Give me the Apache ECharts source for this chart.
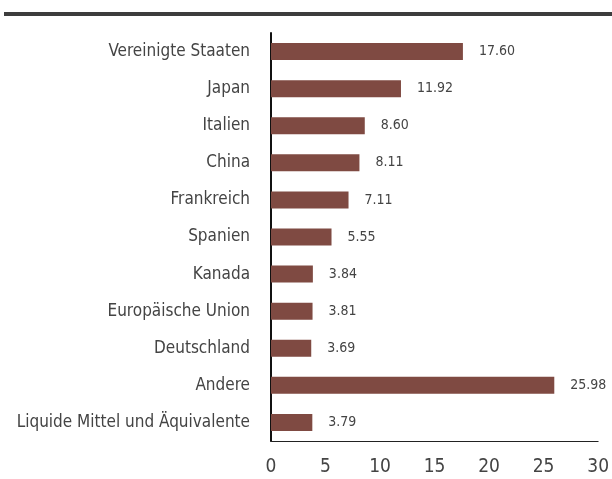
<!DOCTYPE html>
<html>
<head>
<meta charset="utf-8">
<script src="https://cdn.jsdelivr.net/npm/echarts@6/dist/echarts.min.js"></script>
<style>
  html, body { margin: 0; padding: 0; background: #fff; }
  #chart { width: 612px; height: 479px; }
</style>
</head>
<body>
<div id="chart"></div>
<script>
var categories = [
  'Vereinigte Staaten', 'Japan', 'Italien', 'China', 'Frankreich', 'Spanien',
  'Kanada', 'Europäische Union', 'Deutschland', 'Andere', 'Liquide Mittel und Äquivalente'
];
var values = [17.60, 11.92, 8.60, 8.11, 7.11, 5.55, 3.84, 3.81, 3.69, 25.98, 3.79];
var xTicks = [0, 5, 10, 15, 20, 25, 30];

var font = '"DejaVu Sans Condensed", "Liberation Sans Narrow", sans-serif';

var chart = echarts.init(document.getElementById('chart'));

var option = {
  animation: false,
  textStyle: { fontFamily: font },
  graphic: [
    {
      type: 'rect',
      shape: { x: 4, y: 12, width: 608, height: 4 },
      style: { fill: '#3d3d3d' }
    }
  ],
  grid: { left: 271, right: 11, top: 33, bottom: 38 },
  xAxis: {
    type: 'value',
    min: xTicks[0],
    max: xTicks[xTicks.length - 1],
    interval: 5,
    axisLine: { show: true, lineStyle: { color: '#222', width: 1 } },
    axisTick: { show: false },
    splitLine: { show: false },
    axisLabel: { color: '#444', fontSize: 19, margin: 17, fontFamily: font }
  },
  yAxis: {
    type: 'category',
    inverse: true,
    data: categories,
    axisLine: { show: true, lineStyle: { color: '#111', width: 2 } },
    axisTick: { show: false },
    axisLabel: { color: '#444', fontSize: 17, margin: 21, fontFamily: font }
  },
  series: [
    {
      type: 'bar',
      data: values,
      barWidth: 17,
      itemStyle: { color: '#7f4a42' },
      label: {
        show: true,
        position: 'right',
        distance: 16,
        color: '#444',
        fontSize: 14,
        fontFamily: font,
        formatter: function (p) { return p.value.toFixed(2); }
      }
    }
  ]
};

chart.setOption(option);
</script>
</body>
</html>
